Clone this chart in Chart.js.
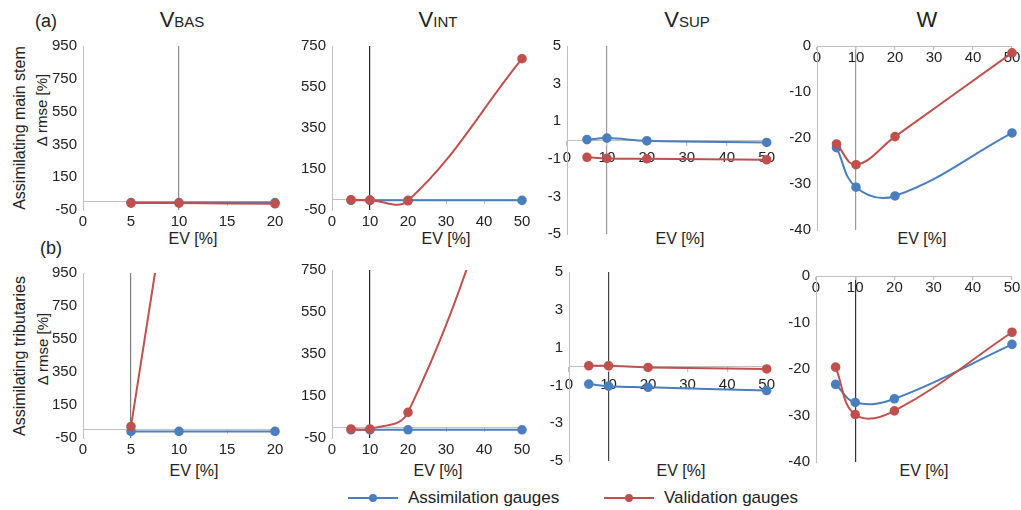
<!DOCTYPE html>
<html>
<head>
<meta charset="utf-8">
<script src="https://cdn.jsdelivr.net/npm/chart.js@4.4.0/dist/chart.umd.min.js"></script>
<style>
  body { margin: 0; background: #fff; font-family: "Liberation Sans", Arial, sans-serif; color: #222; }
  #page { position: relative; width: 1021px; height: 510px; overflow: hidden; }
  canvas { position: absolute; }
  .t { position: absolute; white-space: nowrap; transform: translate(-50%, -50%); }
  .rot { transform: translate(-50%, -50%) rotate(-90deg); }
  .big { font-size: 22px; }
  .small { font-size: 15px; }
  .legend { position: absolute; top: 488px; font-size: 17px; display: flex; align-items: center; }
  .swatch { position: relative; width: 50px; height: 2px; margin-right: 10px; }
  .swatch::after { content: ""; position: absolute; left: 21px; top: -3px; width: 8px; height: 8px; border-radius: 50%; background: inherit; }
</style>
</head>
<body>
<div id="page">
  <div class="t" style="left:46px;top:21px;font-size:18px">(a)</div>
  <div class="t" style="left:51px;top:248px;font-size:18px">(b)</div>

  <div class="t" style="left:182px;top:20px"><span class="big">V</span><span class="small">BAS</span></div>
  <div class="t" style="left:438px;top:20px"><span class="big">V</span><span class="small">INT</span></div>
  <div class="t" style="left:687px;top:20px"><span class="big">V</span><span class="small">SUP</span></div>
  <div class="t" style="left:927px;top:20px"><span class="big">W</span></div>

  <div class="t rot" style="left:20px;top:128px;font-size:16px">Assimilating main stem</div>
  <div class="t rot" style="left:41px;top:110px;font-size:15px">Δ rmse [%]</div>
  <div class="t rot" style="left:20px;top:356px;font-size:16px">Assimilating tributaries</div>
  <div class="t rot" style="left:42px;top:349px;font-size:15px">Δ rmse [%]</div>

  <div class="t" style="left:193px;top:239px;font-size:16px">EV [%]</div>
  <div class="t" style="left:446px;top:239px;font-size:16px">EV [%]</div>
  <div class="t" style="left:680px;top:239px;font-size:16px">EV [%]</div>
  <div class="t" style="left:922px;top:239px;font-size:16px">EV [%]</div>
  <div class="t" style="left:194px;top:471px;font-size:16px">EV [%]</div>
  <div class="t" style="left:438px;top:471px;font-size:16px">EV [%]</div>
  <div class="t" style="left:681px;top:471px;font-size:16px">EV [%]</div>
  <div class="t" style="left:924px;top:471px;font-size:16px">EV [%]</div>

  <div class="legend" style="left:348px"><div class="swatch" style="background:#4a7ebf"></div>Assimilation gauges</div>
  <div class="legend" style="left:604px"><div class="swatch" style="background:#c0504d"></div>Validation gauges</div>
</div>

<script>
// EV percentages on the x axis
const evBas = [5, 10, 20];
const evOther = [5, 10, 20, 50];

const seriesNames = ["Assimilation gauges", "Validation gauges"];

// (a) assimilating main stem, Δ rmse [%]
const basMainAssim = [-5, -5, -5];
const basMainValid = [-8, -8, -12];
const intMainAssim = [-3, -3, -3, -3];
const intMainValid = [0, -2, -5, 688];
const supMainAssim = [0.02, 0.1, -0.04, -0.13];
const supMainValid = [-0.92, -0.98, -1.0, -1.05];
const wMainAssim = [-22.1, -30.7, -32.6, -18.9];
const wMainValid = [-21.3, -25.8, -19.7, -1.5];

// (b) assimilating tributaries, Δ rmse [%]
const basTribAssim = [-10, -10, -10];
const basTribValid = [20, 1880, 3900];
const intTribAssim = [-11, -11, -11, -11];
const intTribValid = [-7, -7, 72, 1500];
const supTribAssim = [-0.93, -1.04, -1.1, -1.27];
const supTribValid = [0.04, 0.04, -0.05, -0.13];
const wTribAssim = [-23.3, -27.2, -26.4, -14.7];
const wTribValid = [-19.6, -29.8, -29.0, -12.1];

const BLUE = "#4a7ebf";
const RED = "#c0504d";
const AXIS = "#bfbfbf";
const FONT = { family: "'Liberation Sans', Arial, sans-serif", size: 15 };
const YW = 40, PAD = 12, XH = 20;

function toPoints(xs, ys) {
  return xs.map((x, i) => ({ x, y: ys[i] }));
}

function makeSet(label, xs, ys, color, extra) {
  return Object.assign({
    label,
    data: toPoints(xs, ys),
    borderColor: color,
    backgroundColor: color,
    borderWidth: 2,
    pointRadius: 3.8,
    pointHoverRadius: 3.8,
    tension: 0.4,
    clip: 6,
    // validation series is drawn over the assimilation one
    order: color === RED ? 0 : 1
  }, extra || {});
}

function makePanel(p) {
  const w = p.right - p.left, h = p.bottom - p.top;
  const canvas = document.createElement("canvas");
  canvas.width = YW + PAD * 2 + w;
  canvas.height = PAD + h + XH + PAD;
  canvas.style.left = (p.left - YW - PAD) + "px";
  canvas.style.top = (p.top - PAD) + "px";
  document.getElementById("page").appendChild(canvas);

  const refGrid = ctx => (ctx.tick && ctx.tick.value === p.refX) ? p.refColor : "rgba(0,0,0,0)";

  const scales = {
    x: {
      type: "linear",
      min: 0,
      max: p.xMax,
      position: p.xAtZero ? { y: 0 } : "bottom",
      ticks: { stepSize: p.xStep, autoSkip: false, maxRotation: 0, font: FONT, color: "#222", padding: p.xPad },
      grid: {
        color: refGrid,
        lineWidth: 1.2,
        tickColor: AXIS,
        tickLength: p.xTick,
        drawTicks: p.xAtZero
      },
      border: { display: p.xAtZero, color: AXIS },
      afterFit: s => { if (!p.xAtZero) s.height = XH; }
    },
    y: {
      type: "linear",
      min: p.yMin,
      max: p.yMax,
      ticks: { stepSize: p.yStep, font: FONT, color: "#222", padding: 6 },
      grid: { drawOnChartArea: false, drawTicks: false },
      border: { color: AXIS },
      afterFit: s => { s.width = YW; }
    }
  };
  if (!p.xAtZero) {
    // axis line at zero, labels stay at the bottom
    scales.x2 = {
      type: "linear",
      min: 0,
      max: p.xMax,
      position: { y: 0 },
      ticks: { display: false, stepSize: p.xStep },
      grid: { drawOnChartArea: false, tickLength: 4, color: AXIS },
      border: { color: AXIS }
    };
  }

  new Chart(canvas.getContext("2d"), {
    type: "line",
    data: { datasets: p.datasets },
    options: {
      responsive: false,
      animation: false,
      layout: { padding: { left: PAD, right: PAD, top: PAD, bottom: PAD } },
      plugins: { legend: { display: false }, tooltip: { enabled: false } },
      scales
    }
  });
}

const basCfg = { xMax: 20, xStep: 5, yMin: -50, yMax: 950, yStep: 200, xAtZero: false, xPad: 3, xTick: 0 };
const intCfg = { xMax: 50, xStep: 10, yMin: -50, yMax: 750, yStep: 200, xAtZero: false, xPad: 3, xTick: 0 };
const supCfg = { xMax: 50, xStep: 10, yMin: -5, yMax: 5, yStep: 2, xAtZero: true, xPad: 4, xTick: 5 };
const wCfg = { xMax: 50, xStep: 10, yMin: -40, yMax: 0, yStep: 10, xAtZero: true, xPad: 0, xTick: 3 };

const topClip = { left: 6, right: 6, top: 0, bottom: 6 };

// row (a)
makePanel(Object.assign({}, basCfg, {
  left: 83, right: 275, top: 43, bottom: 210, refX: 10, refColor: "#8c8c8c",
  datasets: [makeSet(seriesNames[0], evBas, basMainAssim, BLUE), makeSet(seriesNames[1], evBas, basMainValid, RED)]
}));
makePanel(Object.assign({}, intCfg, {
  left: 332, right: 522, top: 43, bottom: 210, refX: 10, refColor: "#222",
  datasets: [makeSet(seriesNames[0], evOther, intMainAssim, BLUE), makeSet(seriesNames[1], evOther, intMainValid, RED)]
}));
makePanel(Object.assign({}, supCfg, {
  left: 567, right: 767, top: 43, bottom: 217, refX: 10, refColor: "#9a9a9a",
  datasets: [makeSet(seriesNames[0], evOther, supMainAssim, BLUE), makeSet(seriesNames[1], evOther, supMainValid, RED)]
}));
makePanel(Object.assign({}, wCfg, {
  left: 817, right: 1012, top: 43, bottom: 213, refX: 10, refColor: "#9a9a9a",
  datasets: [makeSet(seriesNames[0], evOther, wMainAssim, BLUE), makeSet(seriesNames[1], evOther, wMainValid, RED)]
}));

// row (b)
makePanel(Object.assign({}, basCfg, {
  left: 83, right: 275, top: 270, bottom: 438, refX: 5, refColor: "#7a7a7a",
  datasets: [makeSet(seriesNames[0], evBas, basTribAssim, BLUE), makeSet(seriesNames[1], evBas, basTribValid, RED, { tension: 0, clip: topClip })]
}));
makePanel(Object.assign({}, intCfg, {
  left: 332, right: 522, top: 267, bottom: 438, refX: 10, refColor: "#222",
  datasets: [makeSet(seriesNames[0], evOther, intTribAssim, BLUE), makeSet(seriesNames[1], evOther, intTribValid, RED, { clip: topClip })]
}));
makePanel(Object.assign({}, supCfg, {
  left: 569, right: 767, top: 269, bottom: 444, refX: 10, refColor: "#444",
  datasets: [makeSet(seriesNames[0], evOther, supTribAssim, BLUE), makeSet(seriesNames[1], evOther, supTribValid, RED)]
}));
makePanel(Object.assign({}, wCfg, {
  left: 816, right: 1012, top: 273, bottom: 445, refX: 10, refColor: "#333",
  datasets: [makeSet(seriesNames[0], evOther, wTribAssim, BLUE), makeSet(seriesNames[1], evOther, wTribValid, RED)]
}));
</script>
</body>
</html>
